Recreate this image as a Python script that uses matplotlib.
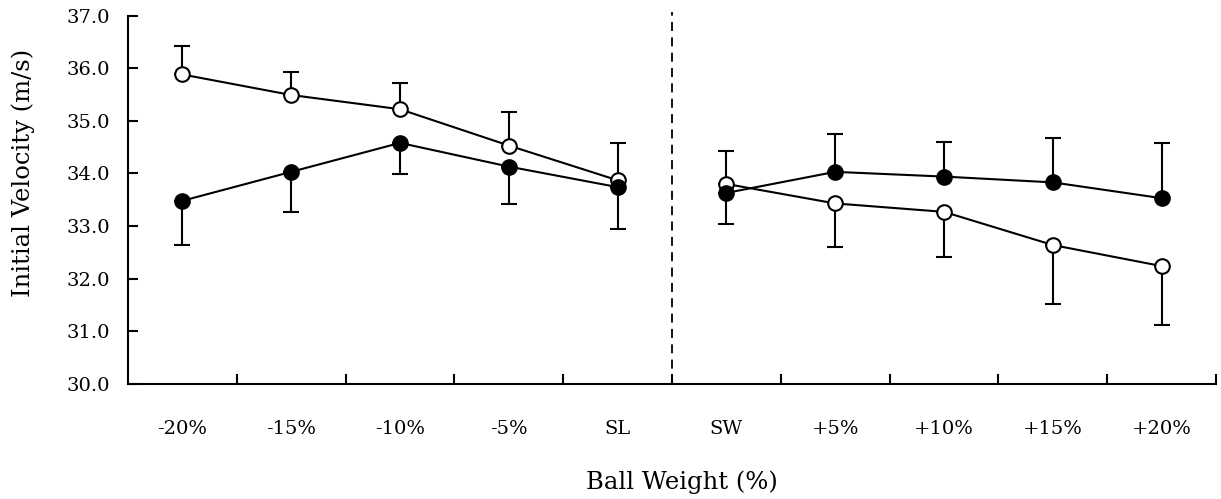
import numpy as np
import matplotlib.pyplot as plt

# data
categories = ['-20%', '-15%', '-10%', '-5%', 'SL', 'SW', '+5%', '+10%', '+15%', '+20%']
open_mean = [35.88, 35.49, 35.22, 34.53, 33.87, 33.80, 33.43, 33.27, 32.64, 32.24]
open_sd = [0.54, 0.44, 0.49, 0.64, 0.71, 0.63, 0.83, 0.86, 1.12, 1.11]
filled_mean = [33.48, 34.03, 34.58, 34.13, 33.74, 33.63, 34.03, 33.94, 33.83, 33.53]
filled_sd = [0.84, 0.76, 0.59, 0.71, 0.80, 0.60, 0.72, 0.65, 0.84, 1.05]
# which side the error bar is drawn on (+1 up, -1 down)
open_dir = [1, 1, 1, 1, 1, 1, -1, -1, -1, -1]
filled_dir = [-1, -1, -1, -1, -1, -1, 1, 1, 1, 1]

plt.rcParams['font.family'] = ['DejaVu Serif']

fig = plt.figure(figsize=(12.21, 4.99), dpi=100)
ax = fig.add_axes([0.1048, 0.2305, 0.8911, 0.7384])

x = np.arange(len(categories))
om = np.array(open_mean)
fm = np.array(filled_mean)
osd = np.array(open_sd)
fsd = np.array(filled_sd)
od = np.array(open_dir)
fd = np.array(filled_dir)

err_kw = dict(fmt='none', ecolor='black', elinewidth=1.5, capsize=5.5, capthick=1.5, zorder=2)
ax.errorbar(x, om, yerr=[np.where(od < 0, osd, 0), np.where(od > 0, osd, 0)], **err_kw)
ax.errorbar(x, fm, yerr=[np.where(fd < 0, fsd, 0), np.where(fd > 0, fsd, 0)], **err_kw)

# lines are broken between SL and SW
for seg in [slice(0, 5), slice(5, 10)]:
    ax.plot(x[seg], om[seg], color='black', lw=1.5, marker='o', ms=10.5,
            mfc='white', mec='black', mew=1.5, zorder=3)
    ax.plot(x[seg], fm[seg], color='black', lw=1.5, marker='o', ms=10.5,
            mfc='black', mec='black', mew=1.5, zorder=4)

ax.axvline(4.5, color='black', lw=1.3, ls=(0, (5, 3.5)), ymax=1.01, clip_on=False)

ax.set_xlim(-0.5, 9.5)
ax.set_ylim(30, 37)
ax.set_yticks(np.arange(30, 37.1, 1.0))
ax.set_yticklabels([f'{v:.1f}' for v in np.arange(30, 37.1, 1.0)])
ax.set_xticks(np.arange(0.5, 10, 1.0))
ax.set_xticklabels([])
ax.set_xticks(x, minor=True)
ax.set_xticklabels(categories, minor=True)

ax.tick_params(axis='x', which='major', direction='in', length=7, width=1.5)
ax.tick_params(axis='x', which='minor', length=0, pad=26, labelsize=14)
ax.tick_params(axis='y', direction='in', length=7, width=1.5, pad=13, labelsize=14)

for s in ['top', 'right']:
    ax.spines[s].set_visible(False)
for s in ['left', 'bottom']:
    ax.spines[s].set_linewidth(1.5)

ax.set_ylabel('Initial Velocity (m/s)', fontsize=17.5, va='center')
ax.yaxis.set_label_coords(-0.0965, 0.573)
ax.set_xlabel('Ball Weight (%)', fontsize=17.5, va='center')
ax.xaxis.set_label_coords(0.509, -0.266)

fig.savefig('out.png', dpi=100)
